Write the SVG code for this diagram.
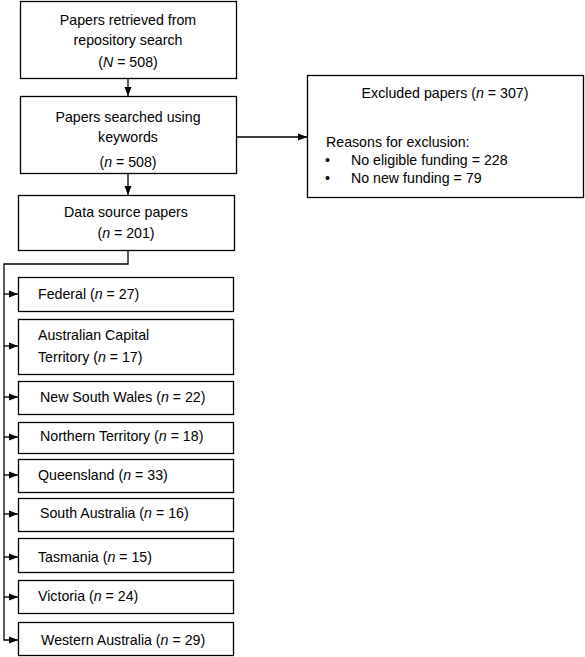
<svg xmlns="http://www.w3.org/2000/svg" width="585" height="657" viewBox="0 0 585 657">
<style>
.b{fill:#fff;stroke:#000;stroke-width:1.3}
text{font-family:"Liberation Sans",Arial,sans-serif;font-size:14.2px;fill:#000}
.c{text-anchor:middle}
.l{fill:none;stroke:#000;stroke-width:1.3}
</style>
<defs>
<marker id="a" viewBox="0 0 9 8" refX="9" refY="4" markerWidth="9" markerHeight="8" markerUnits="userSpaceOnUse" orient="auto">
<path d="M0,0.5 L9,4 L0,7.5 Z" fill="#000"/>
</marker>
</defs>
<g id="connectors">
<line class="l" x1="128" y1="78" x2="128" y2="96" marker-end="url(#a)"/>
<line class="l" x1="128" y1="173" x2="128" y2="195" marker-end="url(#a)"/>
<line class="l" x1="237" y1="137" x2="307" y2="137" marker-end="url(#a)"/>
<polyline class="l" points="128,250 128,264 4,264 4,640 18,640" marker-end="url(#a)"/>
<line class="l" x1="4" y1="294" x2="18" y2="294" marker-end="url(#a)"/>
<line class="l" x1="4" y1="346" x2="18" y2="346" marker-end="url(#a)"/>
<line class="l" x1="4" y1="397" x2="18" y2="397" marker-end="url(#a)"/>
<line class="l" x1="4" y1="437" x2="18" y2="437" marker-end="url(#a)"/>
<line class="l" x1="4" y1="475" x2="18" y2="475" marker-end="url(#a)"/>
<line class="l" x1="4" y1="514" x2="18" y2="514" marker-end="url(#a)"/>
<line class="l" x1="4" y1="557" x2="18" y2="557" marker-end="url(#a)"/>
<line class="l" x1="4" y1="597" x2="18" y2="597" marker-end="url(#a)"/>
</g>
<g id="retrieved">
<rect class="b" x="20.5" y="1.5" width="216" height="77"/>
<text class="c" x="128" y="25">Papers retrieved from</text>
<text class="c" x="128" y="45">repository search</text>
<text class="c" x="128" y="67">(<tspan font-style="italic">N</tspan> = 508)</text>
</g>
<g id="searched">
<rect class="b" x="20.5" y="96.5" width="216" height="77"/>
<text class="c" x="128" y="122">Papers searched using</text>
<text class="c" x="128" y="142">keywords</text>
<text class="c" x="128" y="167">(<tspan font-style="italic">n</tspan> = 508)</text>
</g>
<g id="excluded">
<rect class="b" x="307.5" y="75.5" width="276" height="122"/>
<text class="c" x="445" y="98">Excluded papers (<tspan font-style="italic">n</tspan> = 307)</text>
<text x="326" y="147">Reasons for exclusion:</text>
<text x="325" y="165">•</text>
<text x="351" y="165">No eligible funding = 228</text>
<text x="325" y="183">•</text>
<text x="351" y="183">No new funding = 79</text>
</g>
<g id="datasource">
<rect class="b" x="18.5" y="195.5" width="216" height="55"/>
<text class="c" x="126" y="217">Data source papers</text>
<text class="c" x="126" y="238">(<tspan font-style="italic">n</tspan> = 201)</text>
</g>
<g id="federal">
<rect class="b" x="18.5" y="277.5" width="215" height="34"/>
<text x="38" y="299">Federal (<tspan font-style="italic">n</tspan> = 27)</text>
</g>
<g id="act">
<rect class="b" x="18.5" y="319.5" width="215" height="55"/>
<text x="38" y="340">Australian Capital</text>
<text x="38" y="362">Territory (<tspan font-style="italic">n</tspan> = 17)</text>
</g>
<g id="nsw">
<rect class="b" x="18.5" y="381.5" width="215" height="33"/>
<text x="40" y="402">New South Wales (<tspan font-style="italic">n</tspan> = 22)</text>
</g>
<g id="nt">
<rect class="b" x="18.5" y="422.5" width="215" height="31"/>
<text x="40" y="441">Northern Territory (<tspan font-style="italic">n</tspan> = 18)</text>
</g>
<g id="qld">
<rect class="b" x="18.5" y="459.5" width="215" height="33"/>
<text x="38" y="480">Queensland (<tspan font-style="italic">n</tspan> = 33)</text>
</g>
<g id="sa">
<rect class="b" x="18.5" y="498.5" width="215" height="33"/>
<text x="40" y="518">South Australia (<tspan font-style="italic">n</tspan> = 16)</text>
</g>
<g id="tas">
<rect class="b" x="18.5" y="538.5" width="215" height="34"/>
<text x="38" y="562">Tasmania (<tspan font-style="italic">n</tspan> = 15)</text>
</g>
<g id="vic">
<rect class="b" x="18.5" y="580.5" width="215" height="33"/>
<text x="38" y="601">Victoria (<tspan font-style="italic">n</tspan> = 24)</text>
</g>
<g id="wa">
<rect class="b" x="18.5" y="622.5" width="215" height="33"/>
<text x="41" y="645">Western Australia (<tspan font-style="italic">n</tspan> = 29)</text>
</g>
</svg>
